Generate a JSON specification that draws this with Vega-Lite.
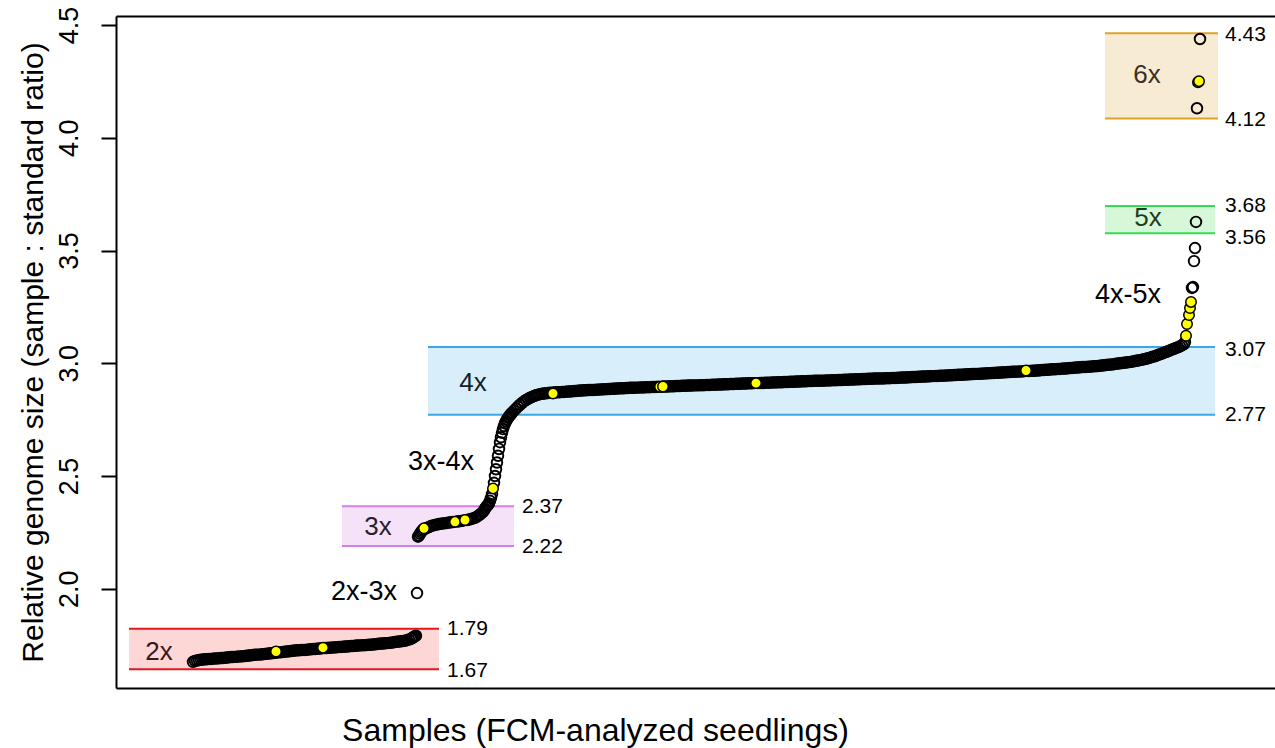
{
  "$schema": "https://vega.github.io/schema/vega-lite/v6.json",
  "width": 1159,
  "height": 672,
  "autosize": "none",
  "padding": {"left": 116, "top": 16, "right": 0, "bottom": 60},
  "background": "white",
  "config": {"font": "Liberation Sans", "view": {"stroke": null}},
  "datasets": {
    "samples": [
      {"sample":1,"ratio":1.676},{"sample":3,"ratio":1.680},{"sample":5,"ratio":1.682},{"sample":7,"ratio":1.684},{"sample":9,"ratio":1.685},{"sample":11,"ratio":1.686},{"sample":13,"ratio":1.687},{"sample":15,"ratio":1.688},{"sample":17,"ratio":1.689},{"sample":19,"ratio":1.689},{"sample":21,"ratio":1.690},{"sample":23,"ratio":1.691},{"sample":25,"ratio":1.691},{"sample":27,"ratio":1.692},{"sample":29,"ratio":1.693},{"sample":31,"ratio":1.693},{"sample":33,"ratio":1.694},{"sample":35,"ratio":1.695},{"sample":37,"ratio":1.696},{"sample":39,"ratio":1.697},{"sample":41,"ratio":1.697},{"sample":43,"ratio":1.698},{"sample":45,"ratio":1.699},{"sample":47,"ratio":1.700},{"sample":49,"ratio":1.700},{"sample":51,"ratio":1.701},{"sample":53,"ratio":1.702},{"sample":55,"ratio":1.703},{"sample":57,"ratio":1.704},{"sample":59,"ratio":1.705},{"sample":61,"ratio":1.706},{"sample":63,"ratio":1.707},{"sample":65,"ratio":1.708},{"sample":67,"ratio":1.708},{"sample":69,"ratio":1.709},{"sample":71,"ratio":1.710},{"sample":73,"ratio":1.711},{"sample":75,"ratio":1.712},{"sample":77,"ratio":1.713},{"sample":79,"ratio":1.714},{"sample":81,"ratio":1.715},{"sample":83,"ratio":1.716},{"sample":85,"ratio":1.717},{"sample":87,"ratio":1.718},{"sample":89,"ratio":1.719},{"sample":91,"ratio":1.720},{"sample":93,"ratio":1.721},{"sample":95,"ratio":1.722},{"sample":97,"ratio":1.723},{"sample":99,"ratio":1.724},{"sample":101,"ratio":1.725},{"sample":103,"ratio":1.726},{"sample":105,"ratio":1.727},{"sample":107,"ratio":1.727},{"sample":109,"ratio":1.728},{"sample":111,"ratio":1.729},{"sample":113,"ratio":1.729},{"sample":115,"ratio":1.730},{"sample":117,"ratio":1.731},{"sample":119,"ratio":1.732},{"sample":121,"ratio":1.733},{"sample":123,"ratio":1.733},{"sample":125,"ratio":1.734},{"sample":127,"ratio":1.735},{"sample":129,"ratio":1.735},{"sample":133,"ratio":1.737},{"sample":135,"ratio":1.737},{"sample":137,"ratio":1.738},{"sample":139,"ratio":1.739},{"sample":141,"ratio":1.740},{"sample":143,"ratio":1.740},{"sample":145,"ratio":1.741},{"sample":147,"ratio":1.742},{"sample":149,"ratio":1.742},{"sample":151,"ratio":1.743},{"sample":153,"ratio":1.744},{"sample":155,"ratio":1.744},{"sample":157,"ratio":1.745},{"sample":159,"ratio":1.746},{"sample":161,"ratio":1.746},{"sample":163,"ratio":1.747},{"sample":165,"ratio":1.748},{"sample":167,"ratio":1.748},{"sample":169,"ratio":1.749},{"sample":171,"ratio":1.750},{"sample":173,"ratio":1.750},{"sample":175,"ratio":1.751},{"sample":177,"ratio":1.752},{"sample":179,"ratio":1.752},{"sample":181,"ratio":1.753},{"sample":183,"ratio":1.754},{"sample":185,"ratio":1.755},{"sample":187,"ratio":1.756},{"sample":189,"ratio":1.757},{"sample":191,"ratio":1.757},{"sample":193,"ratio":1.758},{"sample":195,"ratio":1.759},{"sample":197,"ratio":1.760},{"sample":199,"ratio":1.761},{"sample":201,"ratio":1.762},{"sample":203,"ratio":1.764},{"sample":205,"ratio":1.765},{"sample":207,"ratio":1.766},{"sample":209,"ratio":1.767},{"sample":211,"ratio":1.768},{"sample":213,"ratio":1.770},{"sample":215,"ratio":1.772},{"sample":217,"ratio":1.775},{"sample":219,"ratio":1.778},{"sample":220,"ratio":1.781},{"sample":221,"ratio":1.784},{"sample":222,"ratio":1.787},{"sample":223,"ratio":1.790},{"sample":224,"ratio":1.792},
      {"sample":225,"ratio":1.981},
      {"sample":226,"ratio":2.231},{"sample":227,"ratio":2.236},{"sample":228,"ratio":2.244},{"sample":229,"ratio":2.251},{"sample":230,"ratio":2.257},{"sample":231,"ratio":2.262},{"sample":233,"ratio":2.266},{"sample":235,"ratio":2.270},{"sample":237,"ratio":2.274},{"sample":239,"ratio":2.278},{"sample":241,"ratio":2.281},{"sample":243,"ratio":2.283},{"sample":245,"ratio":2.285},{"sample":247,"ratio":2.287},{"sample":249,"ratio":2.288},{"sample":251,"ratio":2.290},{"sample":253,"ratio":2.291},{"sample":255,"ratio":2.292},{"sample":257,"ratio":2.294},{"sample":259,"ratio":2.295},{"sample":261,"ratio":2.296},{"sample":265,"ratio":2.298},{"sample":267,"ratio":2.299},{"sample":269,"ratio":2.301},{"sample":271,"ratio":2.302},{"sample":275,"ratio":2.305},{"sample":277,"ratio":2.307},{"sample":279,"ratio":2.309},{"sample":281,"ratio":2.312},{"sample":283,"ratio":2.315},{"sample":285,"ratio":2.320},{"sample":287,"ratio":2.326},{"sample":289,"ratio":2.333},{"sample":291,"ratio":2.341},{"sample":292,"ratio":2.348},{"sample":293,"ratio":2.355},{"sample":294,"ratio":2.362},{"sample":295,"ratio":2.368},{"sample":296,"ratio":2.372},
      {"sample":297,"ratio":2.378},{"sample":298,"ratio":2.390},{"sample":299,"ratio":2.403},{"sample":300,"ratio":2.420},{"sample":302,"ratio":2.470},{"sample":303,"ratio":2.500},{"sample":304,"ratio":2.530},{"sample":305,"ratio":2.560},{"sample":306,"ratio":2.590},{"sample":307,"ratio":2.620},{"sample":308,"ratio":2.650},{"sample":309,"ratio":2.672},{"sample":310,"ratio":2.692},{"sample":311,"ratio":2.708},{"sample":312,"ratio":2.722},{"sample":313,"ratio":2.734},{"sample":314,"ratio":2.743},{"sample":315,"ratio":2.751},{"sample":316,"ratio":2.758},{"sample":317,"ratio":2.764},{"sample":318,"ratio":2.770},{"sample":319,"ratio":2.775},{"sample":320,"ratio":2.780},{"sample":322,"ratio":2.790},{"sample":324,"ratio":2.799},{"sample":326,"ratio":2.808},{"sample":328,"ratio":2.816},{"sample":330,"ratio":2.824},{"sample":332,"ratio":2.831},{"sample":334,"ratio":2.837},{"sample":336,"ratio":2.842},{"sample":338,"ratio":2.847},{"sample":340,"ratio":2.851},{"sample":342,"ratio":2.855},{"sample":344,"ratio":2.858},{"sample":346,"ratio":2.861},{"sample":348,"ratio":2.863},{"sample":350,"ratio":2.865},{"sample":352,"ratio":2.866},
      {"sample":354,"ratio":2.867},{"sample":356,"ratio":2.868},{"sample":358,"ratio":2.869},{"sample":360,"ratio":2.869},{"sample":362,"ratio":2.870},{"sample":364,"ratio":2.871},{"sample":366,"ratio":2.871},{"sample":368,"ratio":2.872},{"sample":370,"ratio":2.873},{"sample":372,"ratio":2.873},{"sample":374,"ratio":2.874},{"sample":376,"ratio":2.875},{"sample":378,"ratio":2.875},{"sample":380,"ratio":2.876},{"sample":382,"ratio":2.877},{"sample":384,"ratio":2.877},{"sample":386,"ratio":2.878},{"sample":388,"ratio":2.879},{"sample":390,"ratio":2.879},{"sample":392,"ratio":2.880},{"sample":394,"ratio":2.880},{"sample":396,"ratio":2.881},{"sample":398,"ratio":2.881},{"sample":400,"ratio":2.882},{"sample":402,"ratio":2.882},{"sample":404,"ratio":2.883},{"sample":406,"ratio":2.883},{"sample":408,"ratio":2.884},{"sample":410,"ratio":2.884},{"sample":412,"ratio":2.885},{"sample":414,"ratio":2.885},{"sample":416,"ratio":2.886},{"sample":418,"ratio":2.886},{"sample":420,"ratio":2.887},{"sample":422,"ratio":2.887},{"sample":424,"ratio":2.888},{"sample":426,"ratio":2.888},{"sample":428,"ratio":2.889},{"sample":430,"ratio":2.889},{"sample":432,"ratio":2.889},{"sample":434,"ratio":2.890},{"sample":436,"ratio":2.890},{"sample":438,"ratio":2.891},{"sample":440,"ratio":2.891},{"sample":442,"ratio":2.891},{"sample":444,"ratio":2.892},{"sample":446,"ratio":2.892},{"sample":448,"ratio":2.893},{"sample":450,"ratio":2.893},{"sample":452,"ratio":2.893},{"sample":454,"ratio":2.894},{"sample":456,"ratio":2.894},{"sample":458,"ratio":2.894},{"sample":460,"ratio":2.895},{"sample":462,"ratio":2.895},{"sample":464,"ratio":2.895},{"sample":466,"ratio":2.896},{"sample":470,"ratio":2.896},{"sample":472,"ratio":2.897},{"sample":474,"ratio":2.897},{"sample":476,"ratio":2.897},{"sample":478,"ratio":2.898},{"sample":480,"ratio":2.898},{"sample":482,"ratio":2.898},{"sample":484,"ratio":2.899},{"sample":486,"ratio":2.899},{"sample":488,"ratio":2.899},{"sample":490,"ratio":2.900},{"sample":492,"ratio":2.900},{"sample":494,"ratio":2.900},{"sample":496,"ratio":2.901},{"sample":498,"ratio":2.901},{"sample":500,"ratio":2.901},{"sample":502,"ratio":2.902},{"sample":504,"ratio":2.902},{"sample":506,"ratio":2.902},{"sample":508,"ratio":2.903},{"sample":510,"ratio":2.903},{"sample":512,"ratio":2.903},{"sample":514,"ratio":2.904},{"sample":516,"ratio":2.904},{"sample":518,"ratio":2.904},{"sample":520,"ratio":2.905},{"sample":522,"ratio":2.905},{"sample":524,"ratio":2.905},{"sample":526,"ratio":2.906},{"sample":528,"ratio":2.906},{"sample":530,"ratio":2.906},{"sample":532,"ratio":2.907},{"sample":534,"ratio":2.907},{"sample":536,"ratio":2.907},{"sample":538,"ratio":2.908},{"sample":540,"ratio":2.908},{"sample":542,"ratio":2.908},{"sample":544,"ratio":2.909},{"sample":546,"ratio":2.909},{"sample":548,"ratio":2.909},{"sample":550,"ratio":2.910},{"sample":552,"ratio":2.910},{"sample":554,"ratio":2.910},{"sample":556,"ratio":2.911},{"sample":558,"ratio":2.911},{"sample":560,"ratio":2.911},{"sample":562,"ratio":2.912},{"sample":566,"ratio":2.912},{"sample":568,"ratio":2.913},{"sample":570,"ratio":2.913},{"sample":572,"ratio":2.913},{"sample":574,"ratio":2.914},{"sample":576,"ratio":2.914},{"sample":578,"ratio":2.914},{"sample":580,"ratio":2.915},{"sample":582,"ratio":2.915},{"sample":584,"ratio":2.915},{"sample":586,"ratio":2.916},{"sample":588,"ratio":2.916},{"sample":590,"ratio":2.916},{"sample":592,"ratio":2.917},{"sample":594,"ratio":2.917},{"sample":596,"ratio":2.917},{"sample":598,"ratio":2.918},{"sample":600,"ratio":2.918},{"sample":602,"ratio":2.918},{"sample":604,"ratio":2.919},{"sample":606,"ratio":2.919},{"sample":608,"ratio":2.919},{"sample":610,"ratio":2.920},{"sample":612,"ratio":2.920},{"sample":614,"ratio":2.920},{"sample":616,"ratio":2.921},{"sample":618,"ratio":2.921},{"sample":620,"ratio":2.921},{"sample":622,"ratio":2.922},{"sample":624,"ratio":2.922},{"sample":626,"ratio":2.922},{"sample":628,"ratio":2.923},{"sample":630,"ratio":2.923},{"sample":632,"ratio":2.923},{"sample":634,"ratio":2.924},{"sample":636,"ratio":2.924},{"sample":638,"ratio":2.924},{"sample":640,"ratio":2.925},{"sample":642,"ratio":2.925},{"sample":644,"ratio":2.925},{"sample":646,"ratio":2.926},{"sample":648,"ratio":2.926},{"sample":650,"ratio":2.926},{"sample":652,"ratio":2.927},{"sample":654,"ratio":2.927},{"sample":656,"ratio":2.927},{"sample":658,"ratio":2.928},{"sample":660,"ratio":2.928},{"sample":662,"ratio":2.928},{"sample":664,"ratio":2.929},{"sample":666,"ratio":2.929},{"sample":668,"ratio":2.929},{"sample":670,"ratio":2.930},{"sample":672,"ratio":2.930},{"sample":674,"ratio":2.930},{"sample":676,"ratio":2.931},{"sample":678,"ratio":2.931},{"sample":680,"ratio":2.931},{"sample":682,"ratio":2.932},{"sample":684,"ratio":2.932},{"sample":686,"ratio":2.932},{"sample":688,"ratio":2.933},{"sample":690,"ratio":2.933},{"sample":692,"ratio":2.933},{"sample":694,"ratio":2.934},{"sample":696,"ratio":2.934},{"sample":698,"ratio":2.934},{"sample":700,"ratio":2.935},{"sample":702,"ratio":2.935},{"sample":704,"ratio":2.935},{"sample":706,"ratio":2.936},{"sample":708,"ratio":2.936},{"sample":710,"ratio":2.937},{"sample":712,"ratio":2.937},{"sample":714,"ratio":2.937},{"sample":716,"ratio":2.938},{"sample":718,"ratio":2.938},{"sample":720,"ratio":2.939},{"sample":722,"ratio":2.939},{"sample":724,"ratio":2.939},{"sample":726,"ratio":2.940},{"sample":728,"ratio":2.940},{"sample":730,"ratio":2.941},{"sample":732,"ratio":2.941},{"sample":734,"ratio":2.941},{"sample":736,"ratio":2.942},{"sample":738,"ratio":2.942},{"sample":740,"ratio":2.943},{"sample":742,"ratio":2.943},{"sample":744,"ratio":2.944},{"sample":746,"ratio":2.944},{"sample":748,"ratio":2.945},{"sample":750,"ratio":2.945},{"sample":752,"ratio":2.945},{"sample":754,"ratio":2.946},{"sample":756,"ratio":2.946},{"sample":758,"ratio":2.947},{"sample":760,"ratio":2.947},{"sample":762,"ratio":2.948},{"sample":764,"ratio":2.948},{"sample":766,"ratio":2.949},{"sample":768,"ratio":2.949},{"sample":770,"ratio":2.949},{"sample":772,"ratio":2.950},{"sample":774,"ratio":2.950},{"sample":776,"ratio":2.951},{"sample":778,"ratio":2.951},{"sample":780,"ratio":2.952},{"sample":782,"ratio":2.952},{"sample":784,"ratio":2.953},{"sample":786,"ratio":2.953},{"sample":788,"ratio":2.954},{"sample":790,"ratio":2.954},{"sample":792,"ratio":2.955},{"sample":794,"ratio":2.955},{"sample":796,"ratio":2.956},{"sample":798,"ratio":2.956},{"sample":800,"ratio":2.957},{"sample":802,"ratio":2.957},{"sample":804,"ratio":2.958},{"sample":806,"ratio":2.958},{"sample":808,"ratio":2.959},{"sample":810,"ratio":2.959},{"sample":812,"ratio":2.960},{"sample":814,"ratio":2.960},{"sample":816,"ratio":2.961},{"sample":818,"ratio":2.961},{"sample":820,"ratio":2.962},{"sample":822,"ratio":2.962},{"sample":824,"ratio":2.963},{"sample":826,"ratio":2.963},{"sample":828,"ratio":2.964},{"sample":830,"ratio":2.964},{"sample":832,"ratio":2.965},{"sample":836,"ratio":2.966},{"sample":838,"ratio":2.966},{"sample":840,"ratio":2.967},{"sample":842,"ratio":2.967},{"sample":844,"ratio":2.968},{"sample":846,"ratio":2.968},{"sample":848,"ratio":2.969},{"sample":850,"ratio":2.970},{"sample":852,"ratio":2.970},{"sample":854,"ratio":2.971},{"sample":856,"ratio":2.971},{"sample":858,"ratio":2.972},{"sample":860,"ratio":2.973},{"sample":862,"ratio":2.973},{"sample":864,"ratio":2.974},{"sample":866,"ratio":2.975},{"sample":868,"ratio":2.975},{"sample":870,"ratio":2.976},{"sample":872,"ratio":2.977},{"sample":874,"ratio":2.977},{"sample":876,"ratio":2.978},{"sample":878,"ratio":2.979},{"sample":880,"ratio":2.979},{"sample":882,"ratio":2.980},{"sample":884,"ratio":2.981},{"sample":886,"ratio":2.981},{"sample":888,"ratio":2.982},{"sample":890,"ratio":2.983},{"sample":892,"ratio":2.983},{"sample":894,"ratio":2.984},{"sample":896,"ratio":2.985},{"sample":898,"ratio":2.985},{"sample":900,"ratio":2.986},{"sample":902,"ratio":2.987},{"sample":904,"ratio":2.987},{"sample":906,"ratio":2.988},{"sample":908,"ratio":2.989},{"sample":910,"ratio":2.990},{"sample":912,"ratio":2.991},{"sample":914,"ratio":2.992},{"sample":916,"ratio":2.993},{"sample":918,"ratio":2.994},{"sample":920,"ratio":2.995},{"sample":922,"ratio":2.996},{"sample":924,"ratio":2.998},{"sample":926,"ratio":2.999},{"sample":928,"ratio":3.000},{"sample":930,"ratio":3.001},{"sample":932,"ratio":3.002},{"sample":934,"ratio":3.003},{"sample":936,"ratio":3.005},{"sample":938,"ratio":3.006},{"sample":940,"ratio":3.007},{"sample":942,"ratio":3.009},{"sample":944,"ratio":3.011},{"sample":946,"ratio":3.012},{"sample":948,"ratio":3.014},{"sample":950,"ratio":3.016},{"sample":952,"ratio":3.018},{"sample":954,"ratio":3.020},{"sample":956,"ratio":3.022},{"sample":958,"ratio":3.025},{"sample":960,"ratio":3.028},{"sample":962,"ratio":3.030},{"sample":964,"ratio":3.033},{"sample":966,"ratio":3.037},{"sample":968,"ratio":3.040},{"sample":970,"ratio":3.043},{"sample":972,"ratio":3.047},{"sample":974,"ratio":3.050},{"sample":976,"ratio":3.053},{"sample":978,"ratio":3.057},{"sample":980,"ratio":3.061},{"sample":982,"ratio":3.064},{"sample":984,"ratio":3.068},{"sample":986,"ratio":3.071},{"sample":988,"ratio":3.075},{"sample":990,"ratio":3.079},{"sample":992,"ratio":3.085},{"sample":993,"ratio":3.094},
      {"sample":1000,"ratio":3.334},{"sample":1001,"ratio":3.338},{"sample":1002,"ratio":3.453},{"sample":1003,"ratio":3.511},{"sample":1004,"ratio":3.627},{"sample":1005,"ratio":4.131},{"sample":1008,"ratio":4.438}
    ],
    "highlighted": [
      {"sample":84,"ratio":1.722},{"sample":131,"ratio":1.739},{"sample":232,"ratio":2.268},{"sample":263,"ratio":2.297},{"sample":273,"ratio":2.305},{"sample":301,"ratio":2.445},{"sample":361,"ratio":2.866},{"sample":468,"ratio":2.896},{"sample":471,"ratio":2.897},{"sample":564,"ratio":2.912},{"sample":834,"ratio":2.968},{"sample":994,"ratio":3.122},{"sample":995,"ratio":3.174},{"sample":997,"ratio":3.214},{"sample":998,"ratio":3.245},{"sample":999,"ratio":3.272},{"sample":1006,"ratio":4.246},{"sample":1007,"ratio":4.251}
    ],
    "bands": [
      {"ploidy":"2x","from":-63,"to":247,"low":1.643,"high":1.823},
      {"ploidy":"3x","from":150,"to":322,"low":2.190,"high":2.366},
      {"ploidy":"4x","from":236,"to":1023,"low":2.772,"high":3.072},
      {"ploidy":"5x","from":913,"to":1023,"low":3.577,"high":3.697},
      {"ploidy":"6x","from":913,"to":1026,"low":4.086,"high":4.463}
    ],
    "labels": [
      {"kind":"ploidy","label":"2x","sample":-33,"ratio":1.720},
      {"kind":"ploidy","label":"3x","sample":186,"ratio":2.274},
      {"kind":"ploidy","label":"4x","sample":281,"ratio":2.912},
      {"kind":"ploidy","label":"5x","sample":956,"ratio":3.644},
      {"kind":"ploidy","label":"6x","sample":955,"ratio":4.278},
      {"kind":"between","label":"2x-3x","sample":172,"ratio":1.985},
      {"kind":"between","label":"3x-4x","sample":249,"ratio":2.562},
      {"kind":"between","label":"4x-5x","sample":936,"ratio":3.303},
      {"kind":"bound","label":"1.79","sample":255,"ratio":1.820},
      {"kind":"bound","label":"1.67","sample":255,"ratio":1.637},
      {"kind":"bound","label":"2.37","sample":330,"ratio":2.363},
      {"kind":"bound","label":"2.22","sample":330,"ratio":2.185},
      {"kind":"bound","label":"3.07","sample":1033,"ratio":3.059},
      {"kind":"bound","label":"2.77","sample":1033,"ratio":2.771},
      {"kind":"bound","label":"3.68","sample":1033,"ratio":3.699},
      {"kind":"bound","label":"3.56","sample":1033,"ratio":3.555},
      {"kind":"bound","label":"4.43","sample":1033,"ratio":4.456},
      {"kind":"bound","label":"4.12","sample":1033,"ratio":4.079}
    ]
  },
  "layer": [
    {
      "data": {"name": "bands"},
      "mark": {"type": "rect"},
      "encoding": {
        "x": {"field": "from", "type": "quantitative", "scale": {"domain": [-76, 1083], "nice": false, "zero": false},
          "axis": {"orient": "bottom", "labels": false, "ticks": false, "grid": false, "domain": true, "domainColor": "black", "domainWidth": 2,
            "title": "Samples (FCM-analyzed seedlings)", "titleFontSize": 32, "titleFontWeight": "normal", "titleColor": "black", "titlePadding": 27, "titleX": 479}},
        "x2": {"field": "to"},
        "y": {"field": "low", "type": "quantitative", "scale": {"domain": [1.56, 4.54], "nice": false, "zero": false},
          "axis": {"orient": "left", "values": [2, 2.5, 3, 3.5, 4, 4.5], "format": ".1f", "grid": false, "labelAngle": -90, "labelFontSize": 27, "labelColor": "black", "labelPadding": 18,
            "tickSize": 15, "tickWidth": 2, "tickColor": "black", "domainColor": "black", "domainWidth": 2,
            "title": "Relative genome size (sample : standard ratio)", "titleFontSize": 30, "titleFontWeight": "normal", "titleColor": "black", "titleX": -83, "titleBaseline": "middle"}},
        "y2": {"field": "high"},
        "fill": {"field": "ploidy", "type": "nominal", "legend": null,
          "scale": {"domain": ["2x", "3x", "4x", "5x", "6x"], "range": ["#fdd6d6", "#f6e2f8", "#d9eefb", "#d6f7d8", "#f8ebd4"]}}
      }
    },
    {
      "data": {"name": "bands"},
      "mark": {"type": "rule", "strokeWidth": 2},
      "encoding": {
        "x": {"field": "from", "type": "quantitative", "scale": {"domain": [-76, 1083], "nice": false, "zero": false}, "axis": null},
        "x2": {"field": "to"},
        "y": {"field": "low", "type": "quantitative", "scale": {"domain": [1.56, 4.54], "nice": false, "zero": false}, "axis": null},
        "stroke": {"field": "ploidy", "type": "nominal", "legend": null,
          "scale": {"domain": ["2x", "3x", "4x", "5x", "6x"], "range": ["#e5161c", "#d37fe6", "#3aa7e6", "#33dc52", "#dba52a"]}}
      }
    },
    {
      "data": {"name": "bands"},
      "mark": {"type": "rule", "strokeWidth": 2},
      "encoding": {
        "x": {"field": "from", "type": "quantitative", "scale": {"domain": [-76, 1083], "nice": false, "zero": false},
          "axis": {"orient": "top", "labels": false, "ticks": false, "grid": false, "title": null, "domain": true, "domainColor": "black", "domainWidth": 2}},
        "x2": {"field": "to"},
        "y": {"field": "high", "type": "quantitative", "scale": {"domain": [1.56, 4.54], "nice": false, "zero": false}, "axis": null},
        "stroke": {"field": "ploidy", "type": "nominal", "legend": null,
          "scale": {"domain": ["2x", "3x", "4x", "5x", "6x"], "range": ["#e5161c", "#d37fe6", "#3aa7e6", "#33dc52", "#dba52a"]}}
      }
    },
    {
      "data": {"name": "samples"},
      "mark": {"type": "point", "shape": "circle", "filled": false, "size": 112, "stroke": "black", "strokeWidth": 1.9, "opacity": 1},
      "encoding": {
        "x": {"field": "sample", "type": "quantitative", "scale": {"domain": [-76, 1083], "nice": false, "zero": false}, "axis": null},
        "y": {"field": "ratio", "type": "quantitative", "scale": {"domain": [1.56, 4.54], "nice": false, "zero": false}, "axis": null}
      }
    },
    {
      "data": {"name": "highlighted"},
      "mark": {"type": "point", "shape": "circle", "filled": true, "size": 110, "fill": "#ffff00", "stroke": "black", "strokeWidth": 1.5, "opacity": 1},
      "encoding": {
        "x": {"field": "sample", "type": "quantitative", "scale": {"domain": [-76, 1083], "nice": false, "zero": false}, "axis": null},
        "y": {"field": "ratio", "type": "quantitative", "scale": {"domain": [1.56, 4.54], "nice": false, "zero": false}, "axis": null}
      }
    },
    {
      "data": {"name": "labels"},
      "transform": [{"filter": "datum.kind === 'ploidy'"}],
      "mark": {"type": "text", "fontSize": 26, "align": "center", "baseline": "middle"},
      "encoding": {
        "x": {"field": "sample", "type": "quantitative", "scale": {"domain": [-76, 1083], "nice": false, "zero": false}, "axis": null},
        "y": {"field": "ratio", "type": "quantitative", "scale": {"domain": [1.56, 4.54], "nice": false, "zero": false}, "axis": null},
        "text": {"field": "label"},
        "color": {"field": "label", "type": "nominal", "legend": null,
          "scale": {"domain": ["2x", "3x", "4x", "5x", "6x"], "range": ["#3f1616", "#2a1e2e", "#10202b", "#1d3d1d", "#3c3020"]}}
      }
    },
    {
      "data": {"name": "labels"},
      "transform": [{"filter": "datum.kind === 'between'"}],
      "mark": {"type": "text", "fontSize": 27, "align": "center", "baseline": "middle", "color": "black"},
      "encoding": {
        "x": {"field": "sample", "type": "quantitative", "scale": {"domain": [-76, 1083], "nice": false, "zero": false}, "axis": null},
        "y": {"field": "ratio", "type": "quantitative", "scale": {"domain": [1.56, 4.54], "nice": false, "zero": false}, "axis": null},
        "text": {"field": "label"}
      }
    },
    {
      "data": {"name": "labels"},
      "transform": [{"filter": "datum.kind === 'bound'"}],
      "mark": {"type": "text", "fontSize": 21, "align": "left", "baseline": "middle", "color": "black"},
      "encoding": {
        "x": {"field": "sample", "type": "quantitative", "scale": {"domain": [-76, 1083], "nice": false, "zero": false}, "axis": null},
        "y": {"field": "ratio", "type": "quantitative", "scale": {"domain": [1.56, 4.54], "nice": false, "zero": false}, "axis": null},
        "text": {"field": "label"}
      }
    }
  ],
  "resolve": {"scale": {"fill": "independent", "stroke": "independent", "color": "independent"}, "axis": {"x": "independent", "y": "independent"}}
}
